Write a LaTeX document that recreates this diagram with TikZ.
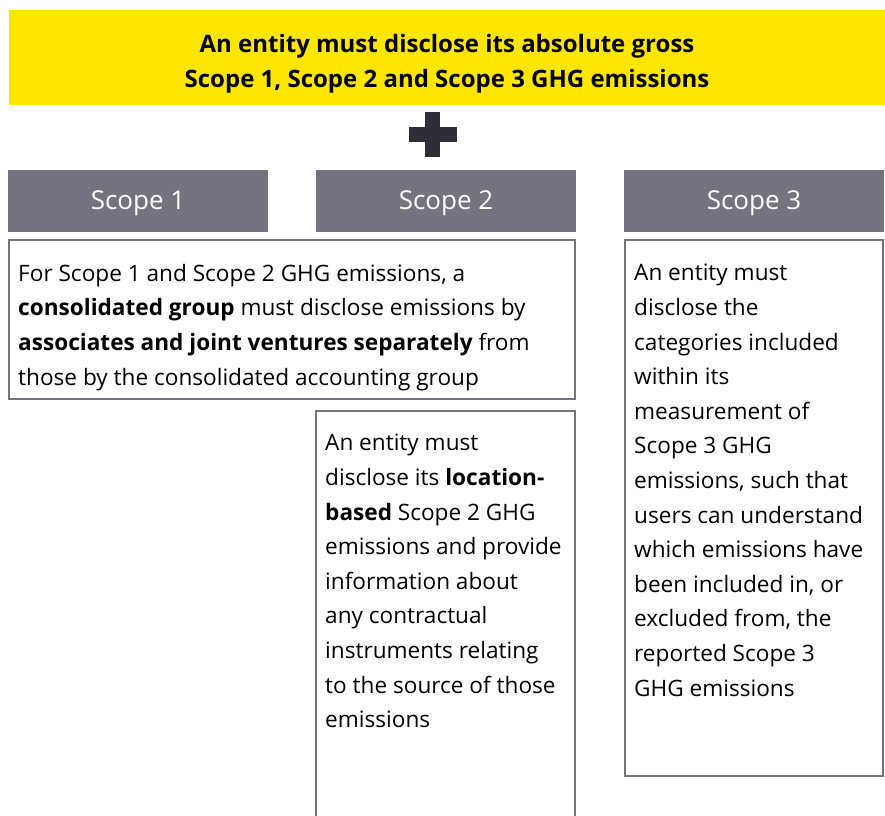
\documentclass[tikz,border=0pt]{standalone}
\usepackage{fontspec}
\setmainfont{Open Sans}
\definecolor{eyyellow}{HTML}{FFE600}
\definecolor{eygrey}{HTML}{747480}
\definecolor{eydark}{HTML}{2E2E38}
\begin{document}
\begin{tikzpicture}[x=1pt,y=-1pt,
 head/.style={fill=eygrey,text=white,minimum width=260pt,minimum height=62pt,inner sep=0pt,text depth=2pt,font=\fontsize{26}{30}\selectfont},
 txt/.style={anchor=north west,align=left,inner sep=0pt,font=\fontsize{22.6}{34.6}\selectfont},
 frame/.style={draw=eygrey,line width=2pt}]
 \path[use as bounding box,clip] (0,0) rectangle (885,815);
 % requirement banner and plus sign
 \fill[eyyellow] (9,10) rectangle (885,105);
 \node[align=center,inner sep=0pt,font=\bfseries\fontsize{24}{34.5}\selectfont] (goal) at (447,64)
   {An entity must disclose its absolute gross\\Scope 1, Scope 2 and Scope 3 GHG emissions};
 \fill[eydark] (425,112) rectangle (440,157);
 \fill[eydark] (409,127) rectangle (457,142);
 % scope headers
 \node[head] (scA) at (138,201) {Scope 1};
 \node[head] (scB) at (446,201) {Scope 2};
 \node[head] (scC) at (754,201) {Scope 3};
 % frames
 \draw[frame] (9,240) rectangle (575,399);
 \draw[frame] (316,411) rectangle (575,840);
 \draw[frame] (625,240) rectangle (883,776);
 \node[txt] (grp) at (18,264) {For Scope 1 and Scope 2 GHG emissions, a\\
   \textbf{consolidated group} must disclose emissions by\\
   \textbf{associates and joint ventures separately} from\\
   those by the consolidated accounting group};
 \node[txt] (loc) at (325,434) {An entity must\\disclose its \textbf{location-}\\
   \textbf{based} Scope 2 GHG\\emissions and provide\\information about\\any contractual\\
   instruments relating\\to the source of those\\emissions};
 \node[txt] (cat) at (634,264) {An entity must\\disclose the\\categories included\\within its\\
   measurement of\\Scope 3 GHG\\emissions, such that\\users can understand\\
   which emissions have\\been included in, or\\excluded from, the\\reported Scope 3\\GHG emissions};
\end{tikzpicture}
\end{document}
